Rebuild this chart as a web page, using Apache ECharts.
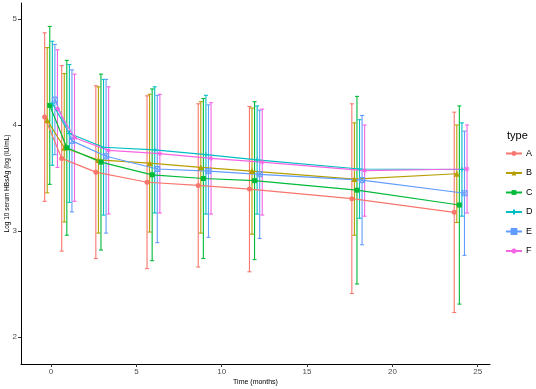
<!DOCTYPE html>
<html>
<head>
<meta charset="utf-8">
<script src="https://cdn.jsdelivr.net/npm/echarts@6/dist/echarts.min.js"></script>
<style>
  html, body { margin: 0; padding: 0; background: #fff; }
  #chart { width: 536px; height: 389px; }
</style>
</head>
<body>
<div id="chart"></div>
<script>
// time points (months)
const months = [0, 1, 3, 6, 9, 12, 18, 24];
const groups = ['A', 'B', 'C', 'D', 'E', 'F'];

// group means (log10 HBsAg) and standard deviations
const meanA = [4.075, 3.685, 3.555, 3.46, 3.43, 3.395, 3.305, 3.176];
const sdA   = [0.795, 0.875, 0.815, 0.815, 0.77, 0.78, 0.895, 0.945];
const meanB = [4.045, 3.785, 3.67, 3.64, 3.60, 3.565, 3.49, 3.54];
const sdB   = [0.685, 0.70, 0.69, 0.65, 0.62, 0.595, 0.53, 0.46];
const meanC = [4.185, 3.785, 3.65, 3.53, 3.495, 3.475, 3.385, 3.245];
const sdC   = [0.745, 0.825, 0.83, 0.81, 0.755, 0.745, 0.885, 0.935];
const meanD = [4.205, 3.92, 3.79, 3.765, 3.72, 3.67, 3.585, 3.58];
const sdD   = [0.585, 0.65, 0.64, 0.595, 0.56, 0.51, 0.465, 0.44];
const meanE = [4.24, 3.85, 3.705, 3.585, 3.565, 3.535, 3.48, 3.356];
const sdE   = [0.52, 0.67, 0.725, 0.695, 0.625, 0.605, 0.61, 0.586];
const meanF = [4.155, 3.88, 3.76, 3.73, 3.685, 3.65, 3.57, 3.585];
const sdF   = [0.555, 0.60, 0.60, 0.56, 0.525, 0.50, 0.43, 0.415];

const xTicks = [0, 5, 10, 15, 20, 25];
const yTicks = [2, 3, 4, 5];

const means = [meanA, meanB, meanC, meanD, meanE, meanF];
const sds = [sdA, sdB, sdC, sdD, sdE, sdF];
const colors = ['#F8766D', '#B79F00', '#00BA38', '#00BFC4', '#619CFF', '#F564E3'];
const symbols = [
  'circle',
  'triangle',
  'rect',
  'path://M5,0 L5,10 M0,5 L10,5',
  'path://M0,0 L10,0 L10,10 L0,10 Z M0,0 L10,10 M10,0 L0,10',
  'path://M5,0 L5,10 M0,5 L10,5 M1.5,1.5 L8.5,8.5 M8.5,1.5 L1.5,8.5'
];
const dodge = 0.15;

const chart = echarts.init(document.getElementById('chart'));

const series = [];
groups.forEach((g, i) => {
  const off = (i - 2.5) * dodge;
  const col = colors[i];
  const errData = months.map((m, j) => [m + off, means[i][j] - sds[i][j], means[i][j] + sds[i][j]]);
  series.push({
    name: g + '_err',
    type: 'custom',
    z: 1,
    encode: { x: 0, y: [1, 2] },
    data: errData,
    silent: true,
    renderItem: (params, api) => {
      const x = api.value(0);
      const top = api.coord([x, api.value(2)]);
      const bot = api.coord([x, api.value(1)]);
      const hw = 2;
      const style = { stroke: col, lineWidth: 1.1, fill: null };
      return {
        type: 'group',
        children: [
          { type: 'line', shape: { x1: top[0], y1: top[1], x2: bot[0], y2: bot[1] }, style },
          { type: 'line', shape: { x1: top[0] - hw, y1: top[1], x2: top[0] + hw, y2: top[1] }, style },
          { type: 'line', shape: { x1: bot[0] - hw, y1: bot[1], x2: bot[0] + hw, y2: bot[1] }, style }
        ]
      };
    }
  });
  const stroked = i >= 3;
  series.push({
    name: g,
    type: 'line',
    z: 3,
    data: months.map((m, j) => [m + off, means[i][j]]),
    symbol: symbols[i],
    symbolSize: i === 1 ? 6 : 5,
    showSymbol: true,
    lineStyle: { color: col, width: 1.2 },
    itemStyle: stroked
      ? { color: 'rgba(0,0,0,0)', borderColor: col, borderWidth: 1 }
      : { color: col, borderWidth: 0 },
    emphasis: { disabled: true }
  });
});

const option = {
  animation: false,
  backgroundColor: '#fff',
  textStyle: { fontFamily: 'Liberation Sans, Arial, sans-serif' },
  title: {
    text: 'type',
    left: 502,
    top: 125,
    textStyle: { fontSize: 11, fontWeight: 'normal', color: '#000', fontFamily: 'Liberation Sans, Arial, sans-serif' }
  },
  legend: {
    data: groups,
    orient: 'vertical',
    left: 500,
    top: 144,
    itemWidth: 16,
    itemHeight: 6,
    itemGap: 10.5,
    textStyle: { fontSize: 9, color: '#000', padding: [0, 0, 0, -1] }
  },
  grid: { left: 21, right: 46, top: 3, bottom: 25, containLabel: false, outerBoundsMode: 'none' },
  xAxis: {
    type: 'value',
    min: -1.76,
    max: 25.72,
    name: 'Time (months)',
    nameLocation: 'middle',
    nameGap: 15,
    nameMoveOverlap: false,
    nameTextStyle: { fontSize: 7, color: '#000' },
    axisLine: { show: true, onZero: false, lineStyle: { color: '#000', width: 1 } },
    axisTick: { show: true, length: 3, customValues: xTicks, lineStyle: { color: '#333' } },
    axisLabel: { customValues: xTicks, fontSize: 8, color: '#4D4D4D', margin: 4 },
    splitLine: { show: false }
  },
  yAxis: {
    type: 'value',
    min: 1.745,
    max: 5.151,
    name: 'Log 10 serum HBsAg (log (IU/mL)',
    nameLocation: 'middle',
    nameRotate: 90,
    nameGap: 10,
    nameMoveOverlap: false,
    nameTextStyle: { fontSize: 6.5, color: '#000' },
    axisLine: { show: true, onZero: false, lineStyle: { color: '#000', width: 1 } },
    axisTick: { show: true, length: 3, customValues: yTicks, lineStyle: { color: '#333' } },
    axisLabel: { customValues: yTicks, fontSize: 8, color: '#4D4D4D', margin: 4 },
    splitLine: { show: false }
  },
  series
};

chart.setOption(option);
</script>
</body>
</html>
